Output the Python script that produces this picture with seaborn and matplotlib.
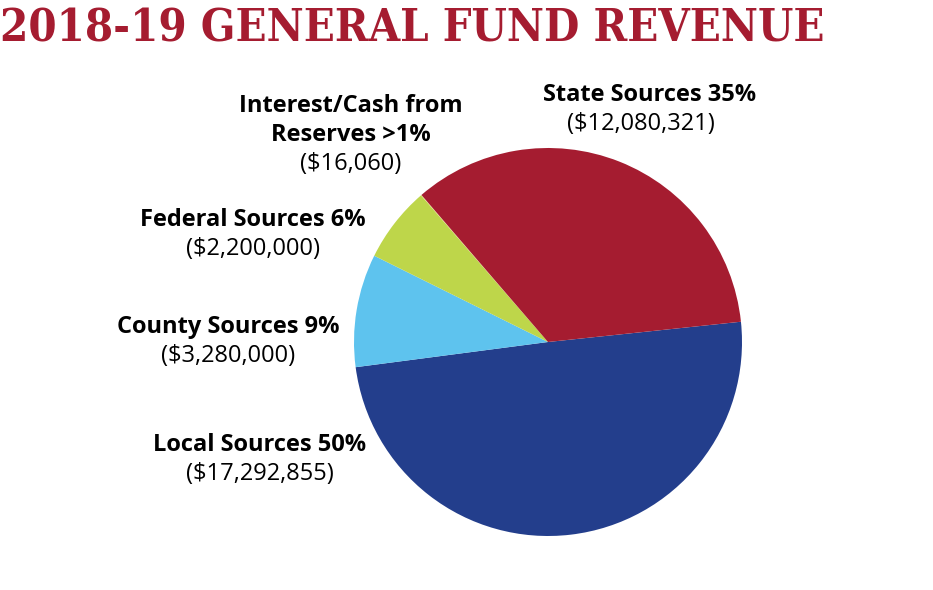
import matplotlib
matplotlib.use("Agg")
import matplotlib.pyplot as plt
import seaborn as sns

# data
sources = ["Local Sources", "County Sources", "Federal Sources",
           "Interest/Cash from Reserves", "State Sources"]
amounts = [17292855, 3280000, 2200000, 16060, 12080321]
pct_text = [["Local Sources 50%"], ["County Sources 9%"], ["Federal Sources 6%"],
            ["Interest/Cash from", "Reserves >1%"], ["State Sources 35%"]]
amount_text = ["($17,292,855)", "($3,280,000)", "($2,200,000)",
               "($16,060)", "($12,080,321)"]
colors = ["#233E8C", "#5EC3EE", "#BED64A", "#E6E07A", "#A51C30"]

# label layout (pixel positions, y from top): bold x, value x, bold baseline
label_pos = [(260, 260, 451), (228, 228, 333), (253, 253, 226),
             (351, 351, 112), (650, 641, 101)]

sns.set_style("white")
plt.rcParams["font.family"] = ["Open Sans", "DejaVu Sans"]

W, H = 933, 590
fig = plt.figure(figsize=(W / 100, H / 100), dpi=100)
ax = fig.add_axes([0, 0, 1, 1])

ax.pie(amounts, colors=colors, startangle=6, counterclock=False,
       center=(548, H - 342), radius=194,
       wedgeprops=dict(linewidth=0))
ax.set_xlim(0, W)
ax.set_ylim(0, H)
ax.set_aspect("equal")
ax.axis("off")

step = 29
for lines, val, (xb, xv, yb) in zip(pct_text, amount_text, label_pos):
    for i, line in enumerate(lines):
        ax.text(xb, H - (yb + step * i), line, ha="center", va="baseline",
                fontsize=17, fontweight="bold", color="black")
    ax.text(xv, H - (yb + step * len(lines)), val, ha="center",
            va="baseline", fontsize=17, color="black")

title = fig.text(0, 1 - 42 / H, "2018-19 GENERAL FUND REVENUE",
                 family="DejaVu Serif", fontstretch="condensed",
                 fontweight="bold", fontsize=30,
                 color="#A51C30", ha="left", va="baseline")
# fit the title to the reference width
r = fig.canvas.get_renderer()
w = title.get_window_extent(r).width
title.set_fontsize(30 * 822 / w)

fig.savefig("out.png", dpi=100)
